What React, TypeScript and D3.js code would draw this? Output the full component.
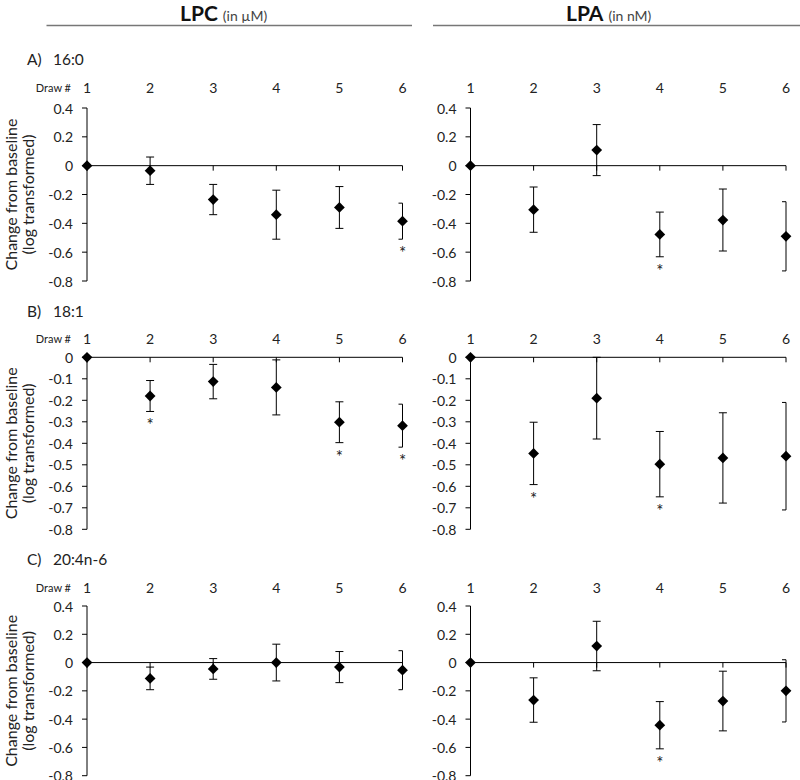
import React from "react";
import * as d3 from "d3";

// ---------- data ----------
const draws = ["1", "2", "3", "4", "5", "6"];
const ticksWide = [0.4, 0.2, 0, -0.2, -0.4, -0.6, -0.8];
const ticksNarrow = [0, -0.1, -0.2, -0.3, -0.4, -0.5, -0.6, -0.7, -0.8];
const rowLetters = ["A)", "B)", "C)"];
const rowLipids = ["16:0", "18:1", "20:4n-6"];
const colHeads = ["LPC", "LPA"];
const colUnits = ["(in µM)", "(in nM)"];

// LPC 16:0
const lpc16Mean = [0, -0.035, -0.235, -0.34, -0.29, -0.385];
const lpc16Err = [0, 0.095, 0.105, 0.17, 0.145, 0.125];
const lpc16Sig = [false, false, false, false, false, true];
// LPA 16:0
const lpa16Mean = [0, -0.305, 0.108, -0.477, -0.377, -0.49];
const lpa16Err = [0, 0.157, 0.177, 0.155, 0.215, 0.24];
const lpa16Sig = [false, false, false, true, false, false];
// LPC 18:1
const lpc18Mean = [0, -0.18, -0.113, -0.14, -0.302, -0.318];
const lpc18Err = [0, 0.072, 0.08, 0.128, 0.095, 0.1];
const lpc18Sig = [false, true, false, false, true, true];
// LPA 18:1
const lpa18Mean = [0, -0.447, -0.19, -0.497, -0.468, -0.46];
const lpa18Err = [0, 0.145, 0.19, 0.152, 0.21, 0.25];
const lpa18Sig = [false, true, false, true, false, false];
// LPC 20:4n-6
const lpc20Mean = [0, -0.112, -0.045, 0.0, -0.032, -0.054];
const lpc20Err = [0, 0.08, 0.073, 0.13, 0.11, 0.138];
const lpc20Sig = [false, false, false, false, false, false];
// LPA 20:4n-6
const lpa20Mean = [0, -0.265, 0.117, -0.443, -0.272, -0.2];
const lpa20Err = [0, 0.157, 0.175, 0.167, 0.211, 0.22];
const lpa20Sig = [false, false, false, true, false, false];

const panelData = [
  [
    { mean: lpc16Mean, err: lpc16Err, sig: lpc16Sig },
    { mean: lpa16Mean, err: lpa16Err, sig: lpa16Sig },
  ],
  [
    { mean: lpc18Mean, err: lpc18Err, sig: lpc18Sig },
    { mean: lpa18Mean, err: lpa18Err, sig: lpa18Sig },
  ],
  [
    { mean: lpc20Mean, err: lpc20Err, sig: lpc20Sig },
    { mean: lpa20Mean, err: lpa20Err, sig: lpa20Sig },
  ],
];

// ---------- layout ----------
const FONT = "Lato, 'Open Sans', sans-serif";
const cols = [
  { x0: 87, x1: 402.5, headX: 180, lineX0: 46.5, lineX1: 412 },
  { x0: 470.5, x1: 786, headX: 566, lineX0: 433, lineX1: 800 },
];
const rows = [
  { top: 108, bottom: 281, domain: [-0.8, 0.4], ticks: ticksWide, titleY: 59, labelY: 87 },
  { top: 357.3, bottom: 529.3, domain: [-0.8, 0], ticks: ticksNarrow, titleY: 311, labelY: 338.5 },
  { top: 606, bottom: 775.7, domain: [-0.8, 0.4], ticks: ticksWide, titleY: 558.5, labelY: 587 },
];

const fmt = (v: number) => (Math.abs(v) < 1e-9 ? "0" : v.toFixed(1));
const diamond = d3.symbol().type(d3.symbolSquare).size(58)() as string;

function Panel({ row, col, data, showDraw }: any) {
  const x = d3.scalePoint<string>().domain(draws).range([col.x0, col.x1]);
  const y = d3.scaleLinear().domain(row.domain).range([row.bottom, row.top]);
  const y0 = y(0);
  const [rx0, rx1] = x.range();
  return (
    <g>
      {/* y axis */}
      <line x1={col.x0} x2={col.x0} y1={row.top} y2={row.bottom} stroke="#000" strokeWidth={1} />
      {row.ticks.map((t: number) => (
        <g key={t}>
          <line x1={col.x0 - 5} x2={col.x0} y1={y(t)} y2={y(t)} stroke="#000" strokeWidth={1} />
          <text
            x={col.x0 - 14}
            y={y(t)}
            textAnchor="end"
            dominantBaseline="central"
            fontSize={14}
            fill="#222"
            fontFamily={FONT}
          >
            {fmt(t)}
          </text>
        </g>
      ))}
      {/* x axis at zero */}
      <line x1={rx0} x2={rx1} y1={y0} y2={y0} stroke="#000" strokeWidth={1} />
      {draws.map((d) => (
        <line key={d} x1={x(d)} x2={x(d)} y1={y0} y2={y0 + 5} stroke="#000" strokeWidth={1} />
      ))}
      {draws.map((d) => (
        <text
          key={d}
          x={x(d)}
          y={row.labelY}
          textAnchor="middle"
          dominantBaseline="central"
          fontSize={14}
          fill="#222"
          fontFamily={FONT}
        >
          {d}
        </text>
      ))}
      {showDraw && (
        <text
          x={71}
          y={row.labelY}
          textAnchor="end"
          dominantBaseline="central"
          fontSize={11}
          fill="#222"
          fontFamily={FONT}
        >
          Draw #
        </text>
      )}
      {/* error bars */}
      {draws.map((d, i) => {
        const e = data.err[i];
        if (!e) return null;
        const cx = x(d)!;
        const yt = y(data.mean[i] + e);
        const yb = y(data.mean[i] - e);
        const cl = Math.max(cx - 4, rx0);
        const cr = Math.min(cx + 4, rx1);
        return (
          <g key={d} stroke="#000" strokeWidth={1}>
            <line x1={cx} x2={cx} y1={yt} y2={yb} />
            <line x1={cl} x2={cr} y1={yt} y2={yt} />
            <line x1={cl} x2={cr} y1={yb} y2={yb} />
          </g>
        );
      })}
      {/* markers */}
      {draws.map((d, i) => (
        <path
          key={d}
          d={diamond}
          transform={`translate(${x(d)},${y(data.mean[i])}) rotate(45)`}
          fill="#000"
        />
      ))}
      {/* significance stars */}
      {draws.map((d, i) =>
        data.sig[i] ? (
          <text
            key={d}
            x={x(d)}
            y={y(data.mean[i] - data.err[i]) + 20}
            textAnchor="middle"
            fontSize={17}
            fill="#222"
            fontFamily={FONT}
          >
            *
          </text>
        ) : null
      )}
    </g>
  );
}

export default function App() {
  return (
    <svg
      width={800}
      height={780}
      style={{ position: "absolute", left: 0, top: 0, background: "#fff" }}
    >
      <rect width={800} height={780} fill="#fff" />
      {/* column headers */}
      {cols.map((c, ci) => (
        <g key={ci}>
          <text x={c.headX} y={21} fontFamily={FONT} fill="#111">
            <tspan fontSize={21} fontWeight="bold">
              {colHeads[ci]}
            </tspan>
            <tspan fontSize={14} fill="#444" dx={5}>
              {colUnits[ci]}
            </tspan>
          </text>
          <line x1={c.lineX0} x2={c.lineX1} y1={25.5} y2={25.5} stroke="#777" strokeWidth={1.5} />
        </g>
      ))}
      {rows.map((r, ri) => (
        <g key={ri}>
          {/* row title */}
          <text x={27} y={r.titleY} dominantBaseline="central" fontSize={15.5} fill="#222" fontFamily={FONT}>
            {rowLetters[ri]}
          </text>
          <text x={53} y={r.titleY} dominantBaseline="central" fontSize={15.5} fill="#222" fontFamily={FONT}>
            {rowLipids[ri]}
          </text>
          {/* y title */}
          <g transform={`translate(10,${(r.top + r.bottom) / 2}) rotate(-90)`}>
            <text textAnchor="middle" dominantBaseline="central" fontSize={16} fill="#222" fontFamily={FONT}>
              Change from baseline
            </text>
          </g>
          <g transform={`translate(27,${(r.top + r.bottom) / 2}) rotate(-90)`}>
            <text textAnchor="middle" dominantBaseline="central" fontSize={16} fill="#222" fontFamily={FONT}>
              (log transformed)
            </text>
          </g>
          {cols.map((c, ci) => (
            <Panel key={ci} row={r} col={c} data={panelData[ri][ci]} showDraw={ci === 0} />
          ))}
        </g>
      ))}
    </svg>
  );
}
